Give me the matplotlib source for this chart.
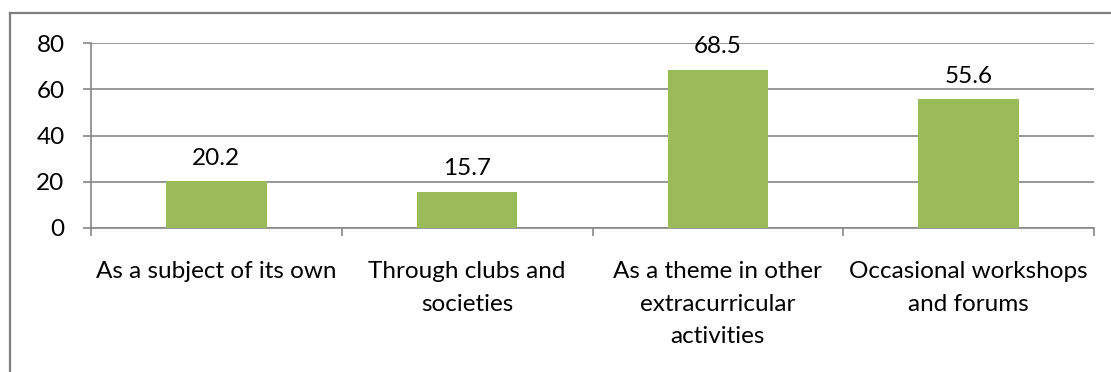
import matplotlib
matplotlib.use("Agg")
import matplotlib.pyplot as plt
from matplotlib.lines import Line2D

categories = [
    "As a subject of its own",
    "Through clubs and\nsocieties",
    "As a theme in other\nextracurricular\nactivities",
    "Occasional workshops\nand forums",
]
values = [20.2, 15.7, 68.5, 55.6]
y_ticks = [0, 20, 40, 60, 80]

plt.rcParams["font.family"] = ["Lato", "DejaVu Sans"]
FS = 17.5

fig = plt.figure(figsize=(11.11, 3.72), dpi=100)
ax = fig.add_axes([91 / 1111, 1 - 228 / 372, (1094 - 91) / 1111, 185 / 372])

grey = "#868686"
x = list(range(len(categories)))
ax.bar(x, values, width=0.4, color="#9BBB59", zorder=3)

for xi, v in zip(x, values):
    ax.annotate(f"{v}", (xi, v), xytext=(0, 9), textcoords="offset points",
                ha="center", va="bottom", fontsize=FS, color="black")

ax.set_xlim(-0.5, len(categories) - 0.5)
ax.set_ylim(0, 80)
ax.set_yticks(y_ticks)
ax.set_yticklabels([str(t) for t in y_ticks], fontsize=FS)
ax.yaxis.grid(True, color=grey, linewidth=1.2, zorder=0)
ax.set_axisbelow(True)

# category labels sit between boundary ticks
ax.set_xticks([i - 0.5 for i in range(len(categories) + 1)])
ax.set_xticklabels([])
ax.set_xticks(x, minor=True)
ax.set_xticklabels(categories, minor=True, fontsize=FS, linespacing=1.66)
ax.tick_params(axis="x", which="minor", length=0, pad=24)
ax.tick_params(axis="x", which="major", length=6, width=1.2, color=grey, direction="out")
ax.tick_params(axis="y", length=6, width=1.2, color=grey, direction="out", pad=13)

for side in ["top", "right"]:
    ax.spines[side].set_visible(False)
for side in ["left", "bottom"]:
    ax.spines[side].set_color(grey)
    ax.spines[side].set_linewidth(1.2)

# chart area frame
fig.add_artist(Line2D([10 / 1111, 1.0], [1 - 13 / 372] * 2, color="#7f7f7f", linewidth=1.6,
                      transform=fig.transFigure))
fig.add_artist(Line2D([10 / 1111] * 2, [1 - 13 / 372, 0.0], color="#7f7f7f", linewidth=1.6,
                      transform=fig.transFigure))

fig.savefig("out.png", dpi=100)
